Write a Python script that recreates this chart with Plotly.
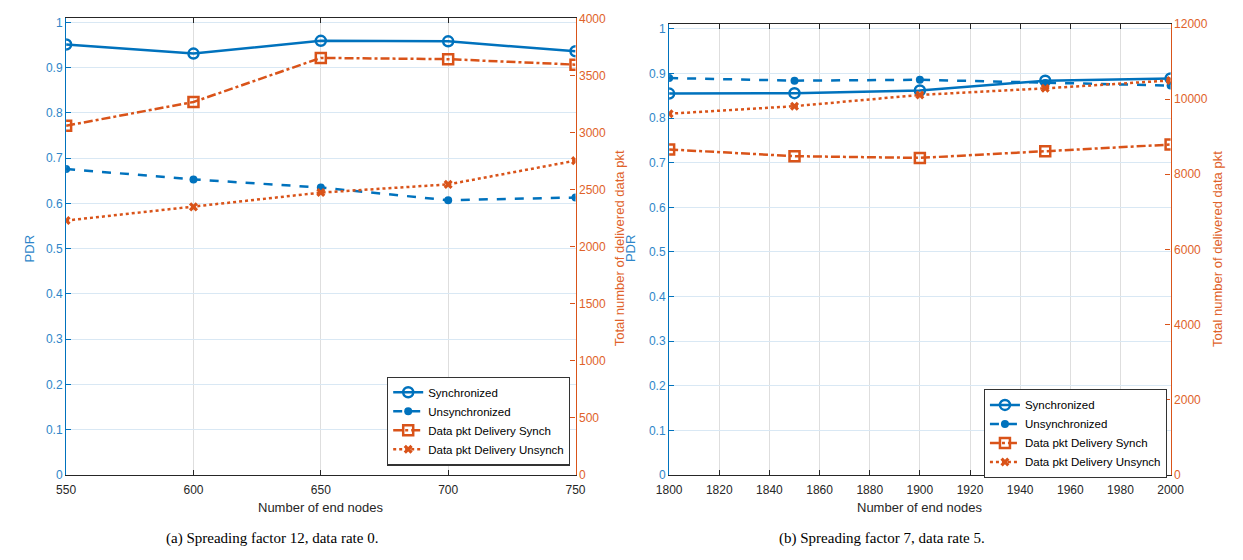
import plotly.graph_objects as go

BLUE = "#0072BD"
ORANGE = "#D95319"

# ---- data (a) SF12, DR0 ----
nodes_a = [550, 600, 650, 700, 750]
pdr_sync_a = [0.951, 0.931, 0.959, 0.958, 0.936]
pdr_unsync_a = [0.676, 0.653, 0.635, 0.607, 0.613]
pkt_sync_a = [3060, 3268, 3654, 3643, 3595]
pkt_unsync_a = [2229, 2349, 2474, 2546, 2754]

# ---- data (b) SF7, DR5 ----
nodes_b = [1800, 1850, 1900, 1950, 2000]
pdr_sync_b = [0.855, 0.856, 0.862, 0.884, 0.889]
pdr_unsync_b = [0.890, 0.884, 0.886, 0.879, 0.873]
pkt_sync_b = [8660, 8480, 8435, 8610, 8790]
pkt_unsync_b = [9610, 9810, 10110, 10285, 10495]

xticks_a = [550, 600, 650, 700, 750]
xticks_b = list(range(1800, 2001, 20))
pdr_ticks = [0, 0.1, 0.2, 0.3, 0.4, 0.5, 0.6, 0.7, 0.8, 0.9, 1]
pdr_ticklabels = ["0", "0.1", "0.2", "0.3", "0.4", "0.5", "0.6", "0.7", "0.8", "0.9", "1"]
pkt_ticks_a = [0, 500, 1000, 1500, 2000, 2500, 3000, 3500, 4000]
pkt_ticks_b = [0, 2000, 4000, 6000, 8000, 10000, 12000]
pkt_ticklabels_a = ["0", "500", "1000", "1500", "2000", "2500", "3000", "3500", "4000"]
pkt_ticklabels_b = ["0", "2000", "4000", "6000", "8000", "10000", "12000"]

names = ["Synchronized", "Unsynchronized", "Data pkt Delivery Synch", "Data pkt Delivery Unsynch"]
captions = ["(a) Spreading factor 12, data rate 0.", "(b) Spreading factor 7, data rate 5."]
xlabel = "Number of end nodes"
ylabel_l = "PDR"
ylabel_r = "Total number of delivered data pkt"

FONT = "Liberation Sans, Arial, sans-serif"
W, H = 1243, 560

fig = go.Figure()

def add_series(xs, s1, s2, s3, s4, xa, ya, ya2, legend):
    fig.add_trace(go.Scatter(x=xs, y=s1, name=names[0], xaxis=xa, yaxis=ya, legend=legend,
                             mode="lines+markers",
                             line=dict(color=BLUE, width=2.5),
                             marker=dict(symbol="circle-open", size=10, color=BLUE, line=dict(width=2.5))))
    fig.add_trace(go.Scatter(x=xs, y=s2, name=names[1], xaxis=xa, yaxis=ya, legend=legend,
                             mode="lines+markers",
                             line=dict(color=BLUE, width=2.5, dash="dash"),
                             marker=dict(symbol="circle", size=8, color=BLUE)))
    fig.add_trace(go.Scatter(x=xs, y=s3, name=names[2], xaxis=xa, yaxis=ya2, legend=legend,
                             mode="lines+markers",
                             line=dict(color=ORANGE, width=2.5, dash="dashdot"),
                             marker=dict(symbol="square-open", size=10, color=ORANGE, line=dict(width=2.5))))
    fig.add_trace(go.Scatter(x=xs, y=s4, name=names[3], xaxis=xa, yaxis=ya2, legend=legend,
                             mode="lines+markers",
                             line=dict(color=ORANGE, width=2.5, dash="dot"),
                             marker=dict(symbol="x", size=8, color=ORANGE)))

add_series(nodes_a, pdr_sync_a, pdr_unsync_a, pkt_sync_a, pkt_unsync_a, "x", "y", "y2", "legend")
add_series(nodes_b, pdr_sync_b, pdr_unsync_b, pkt_sync_b, pkt_unsync_b, "x2", "y3", "y4", "legend2")

# pixel geometry
def px(x):
    return x / W
def py(y):
    return 1 - y / H

ax_a = (54.3, 575.0)
ax_b = (670.7, 1183.3)
bot = 480.0
top_a = 11.7
top_b = 17.3

GRIDX = "#dedede"
GRIDY = "#d9e8f4"
AXC = "#262626"

def xaxis_cfg(dom, ticks, rng, anchor):
    return dict(domain=[px(dom[0]), px(dom[1])], range=rng, anchor=anchor,
                tickvals=ticks, ticks="inside", ticklen=5, tickcolor=AXC,
                showline=True, linecolor=AXC, linewidth=1, mirror="ticks",
                showgrid=True, gridcolor=GRIDX, gridwidth=1, zeroline=False,
                ticklabelstandoff=4,
                tickfont=dict(family=FONT, size=12, color="#262626"), fixedrange=True)

def ycfg_left(dom_top, rng_top, anchor):
    return dict(domain=[py(bot), py(dom_top)], range=[0, rng_top], anchor=anchor,
                tickvals=pdr_ticks, ticktext=pdr_ticklabels, ticks="inside", ticklen=5, tickcolor=BLUE,
                showline=True, linecolor=BLUE, linewidth=1.2, showgrid=True, gridcolor=GRIDY,
                zeroline=False, tickfont=dict(family=FONT, size=12, color="#2e86c9"), fixedrange=True)

def ycfg_right(over, anchor, rng, ticks, labels):
    return dict(overlaying=over, side="right", anchor=anchor, range=rng,
                tickvals=ticks, ticktext=labels, ticks="inside", ticklen=5, tickcolor=ORANGE,
                showline=True, linecolor=ORANGE, linewidth=1.2, showgrid=False, zeroline=False,
                tickfont=dict(family=FONT, size=12, color="#e0622a"), fixedrange=True)

legend_style = dict(xanchor="left", yanchor="top", bgcolor="white", bordercolor="#333333",
                    borderwidth=1.2, font=dict(family=FONT, size=11.5, color="#000000"),
                    itemwidth=30, tracegroupgap=0)

fig.update_layout(
    width=W, height=H,
    margin=dict(l=0, r=0, t=0, b=0),
    paper_bgcolor="white", plot_bgcolor="white",
    font=dict(family=FONT),
    xaxis=xaxis_cfg(ax_a, xticks_a, [550, 750], "y"),
    xaxis2=xaxis_cfg(ax_b, xticks_b, [1800, 2000], "y3"),
    yaxis=ycfg_left(top_a, (bot - top_a) / 464.3, "x"),
    yaxis2=ycfg_right("y", "x", [0, 4000], pkt_ticks_a, pkt_ticklabels_a),
    yaxis3=ycfg_left(top_b, (bot - top_b) / (bot - 22.5), "x2"),
    yaxis4=ycfg_right("y3", "x2", [0, 12000], pkt_ticks_b, pkt_ticklabels_b),
    legend=dict(x=px(382.3), y=py(379), **legend_style),
    legend2=dict(x=px(992.3), y=py(392), **legend_style),
    showlegend=True,
)

annots = []
for (x0, x1) in [ax_a, ax_b]:
    cx = (x0 + x1) / 2
    annots.append(dict(x=px(cx), y=py(513), xref="paper", yref="paper", text=xlabel, showarrow=False,
                       xanchor="center", yanchor="middle", font=dict(family=FONT, size=13, color="#262626")))
for cx, cap in [(265, captions[0]), (888, captions[1])]:
    annots.append(dict(x=px(cx), y=py(545), xref="paper", yref="paper", text=cap, showarrow=False,
                       xanchor="center", yanchor="middle",
                       font=dict(family="Liberation Serif, Times New Roman, serif", size=15, color="black")))
# y titles
for xc, txt, col in [(17, ylabel_l, "#2e86c9"), (620, ylabel_r, "#e0622a"),
                     (632, ylabel_l, "#2e86c9"), (1232, ylabel_r, "#e0622a")]:
    annots.append(dict(x=px(xc), y=py(248), xref="paper", yref="paper", text=txt, showarrow=False,
                       textangle=-90, xanchor="center", yanchor="middle",
                       font=dict(family=FONT, size=13, color=col)))
fig.update_layout(annotations=annots)

fig.write_html("out.html")
